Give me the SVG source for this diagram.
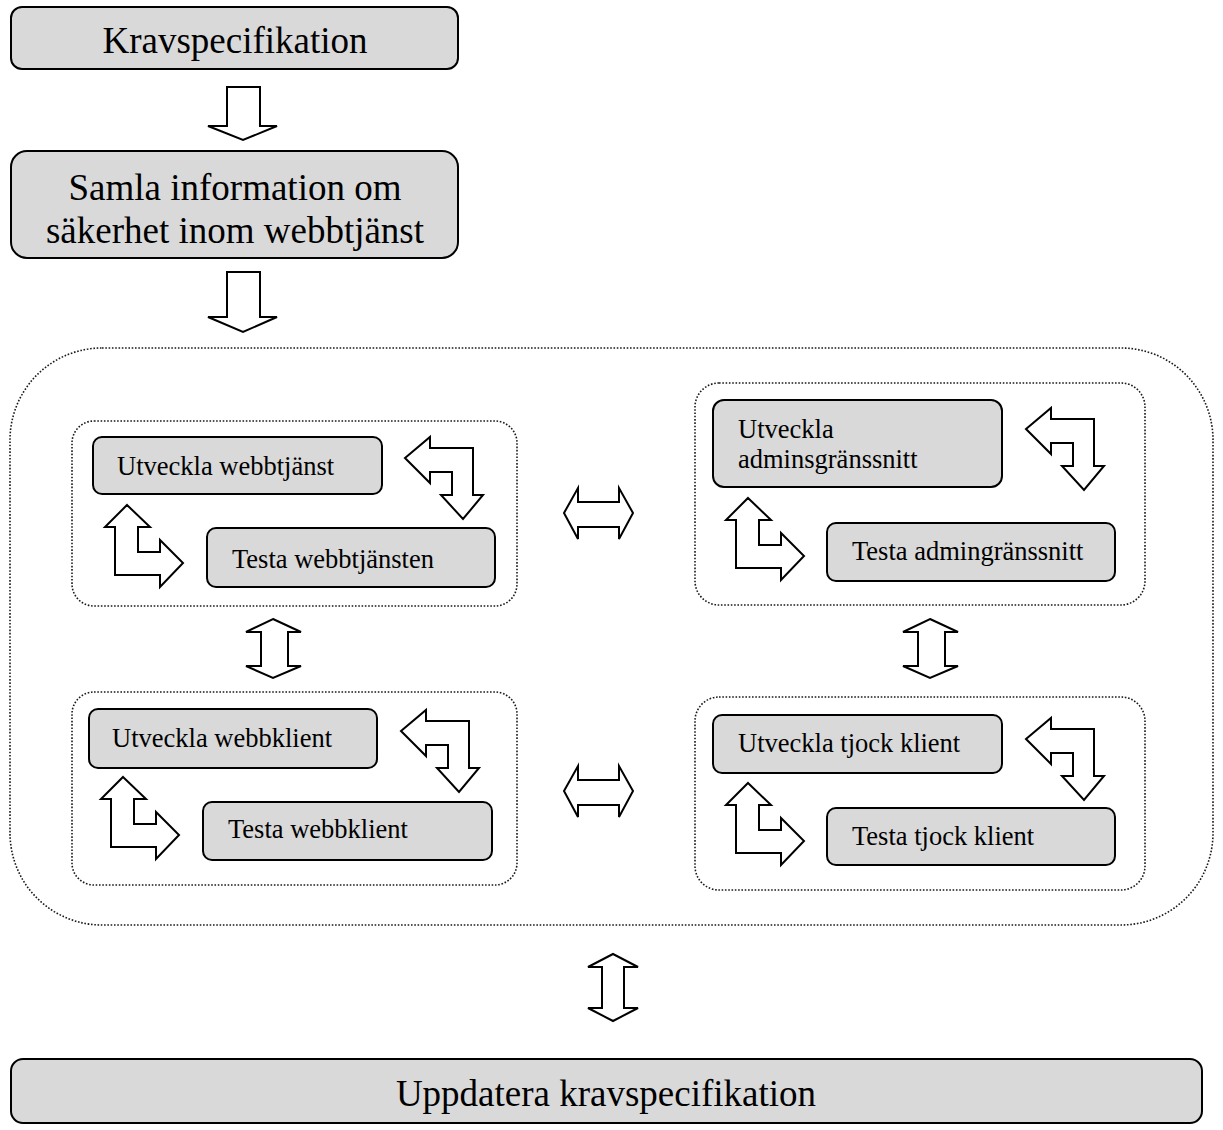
<svg xmlns="http://www.w3.org/2000/svg" width="1223" height="1130" viewBox="0 0 1223 1130">
  <style>
    .box { fill: #d9d9d9; stroke: #000; stroke-width: 2; }
    .grp { fill: none; stroke: #1a1a1a; stroke-width: 1.6; stroke-dasharray: 1.6 1.7; }
    .arr { fill: #fff; stroke: #000; stroke-width: 2; stroke-linejoin: miter; }
    .big { font-family: "Liberation Serif", "Times New Roman", serif; font-size: 37px; fill: #000; }
    .sm { font-family: "Liberation Serif", "Times New Roman", serif; font-size: 26.5px; fill: #000; }
  </style>
  <defs>
    <!-- bent arrow: points left, then turns down -->
    <polygon id="bendLD" class="arr" points="0,21 25,0 25,11 68,11 68,58 78,58 58,82 36,58 47,58 47,35 25,35 25,46"/>
    <!-- bent arrow: points up, then turns right -->
    <polygon id="bendUR" class="arr" points="22,0 45,22 33,22 33,47 55,47 55,35 78,58 55,82 55,70 10,70 10,22 0,22"/>
    <!-- horizontal double arrow -->
    <polygon id="dblH" class="arr" points="0,25 14,0 14,14 55,14 55,0 69,25 55,51 55,39 14,39 14,51"/>
    <!-- vertical double arrow -->
    <polygon id="dblV" class="arr" points="27,0 55,13 42,13 42,47 55,47 27,59 0,47 15,47 15,13 0,13"/>
  </defs>

  <!-- top-level steps -->
  <g id="kravspec">
    <rect class="box" x="11" y="7" width="447" height="62" rx="11"/>
    <text class="big" x="235" y="53" text-anchor="middle">Kravspecifikation</text>
  </g>
  <g id="samla">
    <rect class="box" x="11" y="151" width="447" height="107" rx="16"/>
    <text class="big" x="235" y="200" text-anchor="middle">Samla information om</text>
    <text class="big" x="235" y="243" text-anchor="middle">säkerhet inom webbtjänst</text>
  </g>

  <!-- development container -->
  <g id="utveckling">
    <rect class="grp" x="10" y="348" width="1203" height="577" rx="92"/>
  </g>

  <g id="webbtjanst">
    <rect class="grp" x="72" y="421" width="445" height="185" rx="22"/>
    <rect class="box" x="93" y="437" width="289" height="57" rx="9"/>
    <text class="sm" x="117" y="475">Utveckla webbtjänst</text>
    <rect class="box" x="207" y="528" width="288" height="59" rx="9"/>
    <text class="sm" x="232" y="568">Testa webbtjänsten</text>
    <use href="#bendLD" x="405" y="437"/>
    <use href="#bendUR" x="105" y="505"/>
  </g>

  <g id="adminsgranssnitt">
    <rect class="grp" x="695" y="383" width="450" height="222" rx="24"/>
    <rect class="box" x="713" y="400" width="289" height="87" rx="11"/>
    <text class="sm" x="738" y="438">Utveckla</text>
    <text class="sm" x="738" y="468">adminsgränssnitt</text>
    <rect class="box" x="827" y="523" width="288" height="58" rx="9"/>
    <text class="sm" x="852" y="560">Testa admingränssnitt</text>
    <use href="#bendLD" x="1026" y="408"/>
    <use href="#bendUR" x="726" y="498"/>
  </g>

  <g id="webbklient">
    <rect class="grp" x="72" y="692" width="445" height="193" rx="22"/>
    <rect class="box" x="89" y="709" width="288" height="59" rx="9"/>
    <text class="sm" x="112" y="747">Utveckla webbklient</text>
    <rect class="box" x="203" y="802" width="289" height="58" rx="9"/>
    <text class="sm" x="228" y="838">Testa webbklient</text>
    <use href="#bendLD" x="401" y="710"/>
    <use href="#bendUR" x="101" y="777"/>
  </g>

  <g id="tjockklient">
    <rect class="grp" x="695" y="697" width="450" height="193" rx="24"/>
    <rect class="box" x="713" y="715" width="289" height="58" rx="9"/>
    <text class="sm" x="738" y="752">Utveckla tjock klient</text>
    <rect class="box" x="827" y="808" width="288" height="57" rx="9"/>
    <text class="sm" x="852" y="845">Testa tjock klient</text>
    <use href="#bendLD" x="1026" y="718"/>
    <use href="#bendUR" x="726" y="783"/>
  </g>

  <g id="uppdatera">
    <rect class="box" x="11" y="1059" width="1191" height="64" rx="12"/>
    <text class="big" x="606" y="1106" text-anchor="middle">Uppdatera kravspecifikation</text>
  </g>

  <!-- connectors -->
  <g id="connectors">
    <polygon class="arr" points="227,87 260,87 260,126 277,126 243,140 208,126 227,126"/>
    <polygon class="arr" points="227,272 260,272 260,317 277,317 243,332 208,317 227,317"/>
    <use href="#dblH" x="564" y="488"/>
    <use href="#dblH" x="564" y="766"/>
    <use href="#dblV" x="246" y="619"/>
    <use href="#dblV" x="903" y="619"/>
    <polygon class="arr" points="613,954 638,967 624,967 624,1008 638,1008 613,1021 588,1008 602,1008 602,967 588,967"/>
  </g>
</svg>
